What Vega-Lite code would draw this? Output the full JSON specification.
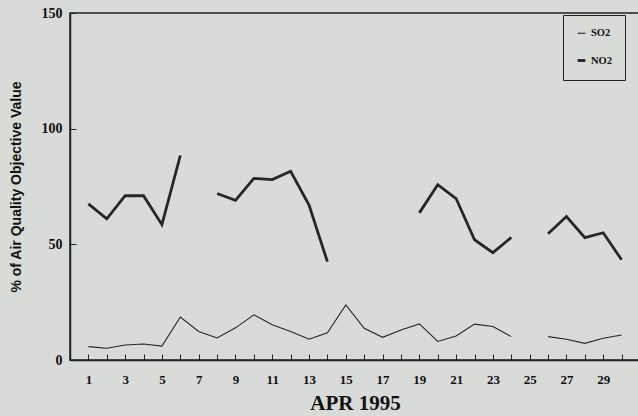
{
  "$schema": "https://vega.github.io/schema/vega-lite/v6.json",
  "autosize": "none",
  "padding": {"left": 70, "top": 13, "right": 0, "bottom": 56},
  "width": 570,
  "height": 347,
  "background": "#d9dbd8",
  "config": {
    "view": {"stroke": "#222", "strokeWidth": 1.5},
    "font": "Liberation Serif"
  },
  "data": {
    "values": [
      {"day": 1, "pollutant": "NO2", "value": 67.5},
      {"day": 2, "pollutant": "NO2", "value": 61},
      {"day": 3, "pollutant": "NO2", "value": 71},
      {"day": 4, "pollutant": "NO2", "value": 71},
      {"day": 5, "pollutant": "NO2", "value": 58.5},
      {"day": 6, "pollutant": "NO2", "value": 88.4},
      {"day": 7, "pollutant": "NO2", "value": null},
      {"day": 8, "pollutant": "NO2", "value": 72},
      {"day": 9, "pollutant": "NO2", "value": 69},
      {"day": 10, "pollutant": "NO2", "value": 78.5},
      {"day": 11, "pollutant": "NO2", "value": 78},
      {"day": 12, "pollutant": "NO2", "value": 81.6},
      {"day": 13, "pollutant": "NO2", "value": 67},
      {"day": 14, "pollutant": "NO2", "value": 42.5},
      {"day": 15, "pollutant": "NO2", "value": null},
      {"day": 16, "pollutant": "NO2", "value": null},
      {"day": 17, "pollutant": "NO2", "value": null},
      {"day": 18, "pollutant": "NO2", "value": null},
      {"day": 19, "pollutant": "NO2", "value": 63.6},
      {"day": 20, "pollutant": "NO2", "value": 75.8},
      {"day": 21, "pollutant": "NO2", "value": 69.8},
      {"day": 22, "pollutant": "NO2", "value": 52},
      {"day": 23, "pollutant": "NO2", "value": 46.4},
      {"day": 24, "pollutant": "NO2", "value": 53},
      {"day": 25, "pollutant": "NO2", "value": null},
      {"day": 26, "pollutant": "NO2", "value": 54.6},
      {"day": 27, "pollutant": "NO2", "value": 62},
      {"day": 28, "pollutant": "NO2", "value": 52.9},
      {"day": 29, "pollutant": "NO2", "value": 55},
      {"day": 30, "pollutant": "NO2", "value": 43.3},
      {"day": 1, "pollutant": "SO2", "value": 5.8},
      {"day": 2, "pollutant": "SO2", "value": 5.1},
      {"day": 3, "pollutant": "SO2", "value": 6.5},
      {"day": 4, "pollutant": "SO2", "value": 6.9},
      {"day": 5, "pollutant": "SO2", "value": 6},
      {"day": 6, "pollutant": "SO2", "value": 18.6},
      {"day": 7, "pollutant": "SO2", "value": 12.3},
      {"day": 8, "pollutant": "SO2", "value": 9.5},
      {"day": 9, "pollutant": "SO2", "value": 13.9},
      {"day": 10, "pollutant": "SO2", "value": 19.5},
      {"day": 11, "pollutant": "SO2", "value": 15.2},
      {"day": 12, "pollutant": "SO2", "value": 12.3},
      {"day": 13, "pollutant": "SO2", "value": 9},
      {"day": 14, "pollutant": "SO2", "value": 11.8},
      {"day": 15, "pollutant": "SO2", "value": 23.8},
      {"day": 16, "pollutant": "SO2", "value": 13.7},
      {"day": 17, "pollutant": "SO2", "value": 9.8},
      {"day": 18, "pollutant": "SO2", "value": 13},
      {"day": 19, "pollutant": "SO2", "value": 15.6},
      {"day": 20, "pollutant": "SO2", "value": 8},
      {"day": 21, "pollutant": "SO2", "value": 10.4},
      {"day": 22, "pollutant": "SO2", "value": 15.5},
      {"day": 23, "pollutant": "SO2", "value": 14.5},
      {"day": 24, "pollutant": "SO2", "value": 10.1},
      {"day": 25, "pollutant": "SO2", "value": null},
      {"day": 26, "pollutant": "SO2", "value": 10.1},
      {"day": 27, "pollutant": "SO2", "value": 9},
      {"day": 28, "pollutant": "SO2", "value": 7.2},
      {"day": 29, "pollutant": "SO2", "value": 9.4},
      {"day": 30, "pollutant": "SO2", "value": 10.8}
    ]
  },
  "mark": {"type": "line", "invalid": "break-paths-show-domains", "color": "#262626", "strokeJoin": "miter"},
  "encoding": {
    "x": {
      "field": "day",
      "type": "quantitative",
      "scale": {"domain": [0, 31], "nice": false, "zero": false},
      "axis": {
        "title": "APR 1995",
        "titleFont": "Liberation Serif",
        "titleFontSize": 21,
        "titleFontWeight": "bold",
        "titleColor": "#111",
        "titlePadding": 6,
        "values": [1,2,3,4,5,6,7,8,9,10,11,12,13,14,15,16,17,18,19,20,21,22,23,24,25,26,27,28,29,30],
        "labelExpr": "datum.value % 2 == 1 ? datum.label : ''",
        "labelFont": "Liberation Serif",
        "labelFontSize": 13,
        "labelFontWeight": "bold",
        "labelColor": "#111",
        "labelPadding": 19,
        "tickSize": -6,
        "tickColor": "#222",
        "domainColor": "#222",
        "domainWidth": 1.5,
        "grid": false
      }
    },
    "y": {
      "field": "value",
      "type": "quantitative",
      "scale": {"domain": [0, 150], "nice": false},
      "axis": {
        "title": "% of Air Quality Objective Value",
        "titleFont": "Liberation Sans",
        "titleFontSize": 14,
        "titleFontWeight": "bold",
        "titleColor": "#111",
        "titlePadding": 18,
        "values": [0, 50, 100, 150],
        "labelFont": "Liberation Serif",
        "labelFontSize": 14,
        "labelFontWeight": "bold",
        "labelColor": "#111",
        "labelPadding": 14,
        "tickSize": -6,
        "tickColor": "#222",
        "domainColor": "#222",
        "domainWidth": 1.5,
        "grid": false
      }
    },
    "strokeWidth": {
      "field": "pollutant",
      "type": "nominal",
      "scale": {"domain": ["SO2", "NO2"], "range": [1.1, 2.8]},
      "legend": {
        "title": null,
        "orient": "none",
        "legendX": 493,
        "legendY": 2,
        "symbolType": "stroke",
        "symbolStrokeColor": "#222",
        "symbolSize": 60,
        "labelFont": "Liberation Serif",
        "labelFontSize": 10.5,
        "labelFontWeight": "bold",
        "labelColor": "#111",
        "strokeColor": "#222",
        "padding": 13,
        "rowPadding": 15,
        "labelOffset": 4
      }
    }
  }
}
